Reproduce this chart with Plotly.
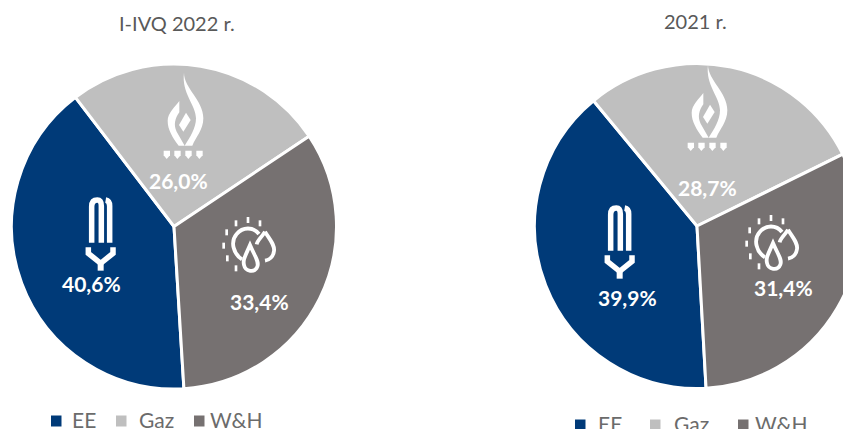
import plotly.graph_objects as go
import re

categories = ["EE", "Gaz", "W&H"]
values_2022 = [40.6, 26.0, 33.4]
values_2021 = [39.9, 28.7, 31.4]
title_2022 = "I-IVQ 2022 r."
title_2021 = "2021 r."
colors = ["#003A78", "#BFBFBF", "#767171"]
W, H = 900, 429
FONT = "Lato"


def lab(v):
    return f"{v:.1f}%".replace(".", ",")


fig = go.Figure()
for vals, cx, cy, r, rot in [(values_2022, 174, 226.5, 162.5, 176.5), (values_2021, 697, 226, 162.5, 176.8)]:
    fig.add_trace(go.Pie(labels=categories, values=vals, sort=False, direction="clockwise", rotation=rot,
                         marker=dict(colors=colors, line=dict(color="white", width=3)),
                         textinfo="none", hoverinfo="label+percent", showlegend=False,
                         domain=dict(x=[(cx - r) / W, (cx + r) / W], y=[(H - cy - r) / H, (H - cy + r) / H])))

shapes, ann = [], []


def tf(path, ox, oy):
    # zoomed reference coordinates (3x) -> pixels
    out, i = [], 0
    for t in re.findall(r"[A-Za-z]|-?[\d.]+", path):
        if t.isalpha():
            out.append(t)
        else:
            out.append(f"{ox + float(t) / 3:.2f}" if i % 2 == 0 else f"{oy + float(t) / 3:.2f}")
            i += 1
    return " ".join(out)


def fill(path, ox, oy):
    shapes.append(dict(type="path", xref="x", yref="y", path=tf(path, ox, oy), fillcolor="white",
                       line=dict(width=0), layer="above"))


def stroke(path, ox, oy, w):
    shapes.append(dict(type="path", xref="x", yref="y", path=tf(path, ox, oy), line=dict(color="white", width=w),
                       fillcolor="rgba(0,0,0,0)", layer="above"))


def flame(ox, oy):
    fill("M372,68 C372,115 430,150 430,205 C430,240 407,262 397,287 L374,287 C390,262 408,235 408,205 C408,165 364,130 372,68 Z", ox, oy)
    fill("M358,153 L358,187 C345,205 340,225 350,245 L374,287 L356,287 C338,262 323,240 323,212 C323,190 345,170 358,153 Z", ox, oy)
    fill("M378,188 L392,210 L370,245 L357,225 Z", ox, oy)
    for dx in [311, 343, 376, 409]:
        fill(f"M{dx},302 L{dx+19},302 L{dx+19},316 L{dx+9},327 L{dx},316 Z", ox, oy)


def bulb(ox, oy):
    stroke("M95,578 L95,470 Q95,450 112,450 Q124,450 124,468 L124,578", ox, oy, 5.5)
    stroke("M149,578 L149,468 Q149,452 137,450", ox, oy, 5.5)
    stroke("M85,592 L85,610 L122,640 L159,610 L159,592", ox, oy, 5.5)
    stroke("M122,640 L122,662", ox, oy, 6)


def sun(ox, oy):
    stroke("M546,628 C520,612 510,575 530,552 C548,530 580,530 597,552", ox, oy, 3.8)
    stroke("M570,585 C555,620 548,630 552,645 C556,665 584,670 592,650 C598,635 585,620 570,585 Z", ox, oy, 3.8)
    stroke("M615,545 C602,565 592,572 590,583 M615,545 C630,570 645,585 642,603 C640,620 628,630 615,632", ox, oy, 3.8)
    for x, y in [(564, 510), (600, 520), (528, 520), (500, 547), (491, 587), (502, 625), (528, 655)]:
        stroke(f"M{x-4},{y} L{x+4},{y}", ox, oy, 6)


flame(60, 50)
bulb(60, 50)
sun(60, 50)
flame(584, 42)
bulb(579, 58)
sun(583, 48)


def text(s, x, y, size, color, bold=False):
    ann.append(dict(text=f"<b>{s}</b>" if bold else s, x=x, y=y, xref="x", yref="y", showarrow=False,
                    font=dict(family=FONT, size=size, color=color)))


text(title_2022, 177, 23, 20, "#595959")
text(title_2021, 695, 21, 20, "#595959")
for v, (x, y) in zip(values_2022, [(91, 283), (178, 180), (259, 301)]):
    text(lab(v), x, y, 21, "white", True)
for v, (x, y) in zip(values_2021, [(627, 297), (707, 187), (783, 287)]):
    text(lab(v), x, y, 21, "white", True)

for sq, tx, yc, ty in [([(51, 0), (116, 1), (194, 2)], [84, 156, 236], 421, 419), ([(575, 0), (650, 1), (738, 2)], [610, 691, 781], 425, 423)]:
    for (sx, i), t in zip(sq, tx):
        shapes.append(dict(type="rect", xref="x", yref="y", x0=sx, x1=sx + 10.5, y0=yc - 5.5, y1=yc + 5.5,
                           fillcolor=colors[i], line=dict(width=0)))
        text(categories[i], t, ty, 21, "#6B6B6B")

fig.update_layout(width=W, height=H, autosize=False, margin=dict(l=0, r=0, t=0, b=0),
                  paper_bgcolor="white", plot_bgcolor="rgba(0,0,0,0)", shapes=shapes, annotations=ann,
                  xaxis=dict(range=[0, W], visible=False, domain=[0, 1], fixedrange=True),
                  yaxis=dict(range=[H, 0], visible=False, domain=[0, 1], fixedrange=True))
fig.write_html("out.html", config=dict(displayModeBar=False),
               post_script="document.documentElement.style.overflow='hidden';document.body.style.overflow='hidden';document.body.style.margin='0';")
